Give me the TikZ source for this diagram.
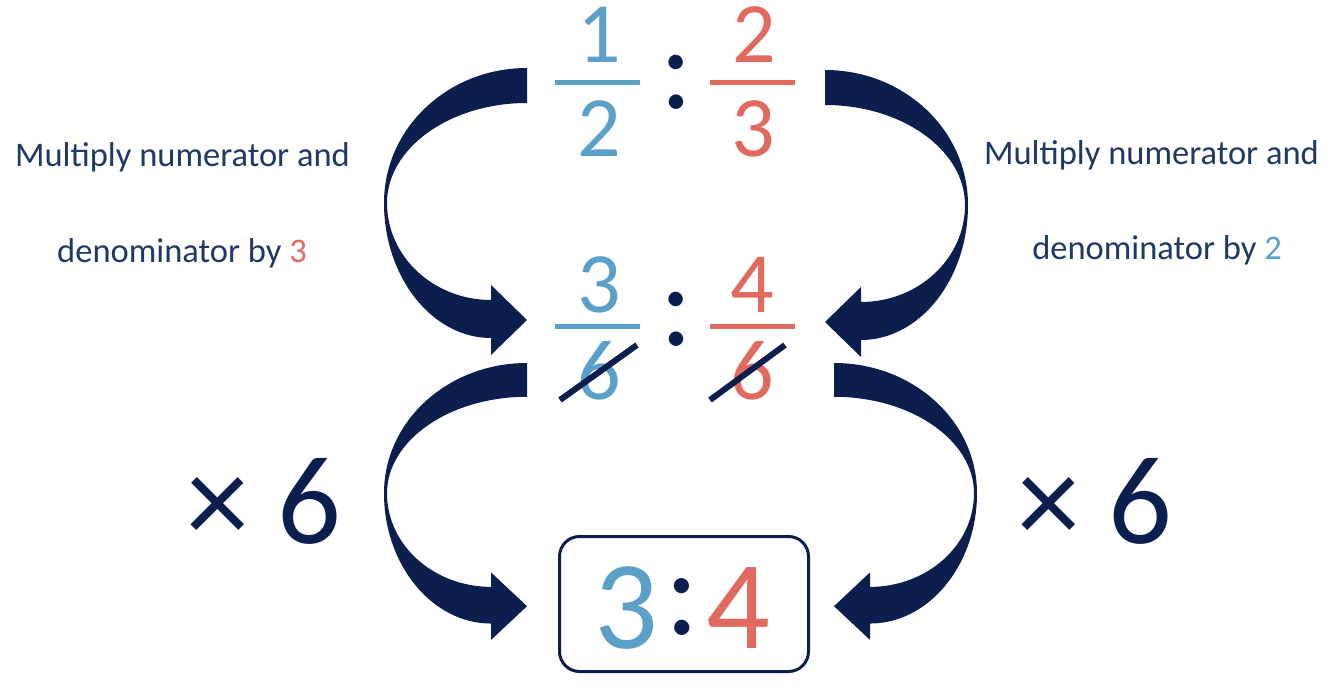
\documentclass[tikz,border=0pt]{standalone}
\usepackage{fontspec}
\setmainfont{Carlito}
\definecolor{navy}{RGB}{12,30,78}
\definecolor{txt}{RGB}{32,56,100}
\definecolor{cblue}{RGB}{91,160,200}
\definecolor{cred}{RGB}{224,106,94}
\tikzset{
  carrow/.pic={\fill[navy] (0,0) .. controls (-79,0) and (-143,60) .. (-143,135)
      .. controls (-143,209) and (-95,270) .. (-36,270)
      -- (-36,287) -- (0,252) -- (-36,217) -- (-36,232)
      .. controls (-93,232) and (-140,189) .. (-140,135)
      .. controls (-140,80) and (-77,35) .. (0,35) -- cycle;},
  lbl/.style={inner sep=0, anchor=base, text=txt, font=\fontsize{34.5}{40}\selectfont},
  frac/.style={inner sep=0, anchor=base, font=\fontsize{86}{90}\selectfont},
  colon/.style={inner sep=0, anchor=base, text=navy, font=\fontsize{120}{124}\selectfont},
  big/.style={inner sep=0, anchor=base, font=\fontsize{126}{130}\selectfont},
  bar/.style={line width=5pt},
  strike/.style={draw=navy, line width=6pt},
  box/.style={draw=navy, line width=3pt, rounded corners=20pt, minimum width=249pt, minimum height=135pt, inner sep=0},
}
\begin{document}
\begin{tikzpicture}[x=1pt,y=-1pt]
\useasboundingbox (0,0) rectangle (1334,692);
% curved arrows
\pic (tl) at (527,68) {carrow};
\pic[xscale=-1] (tr) at (825,70) {carrow};
\pic[yscale=0.965] (bl) at (527,363) {carrow};
\pic[xscale=-1,yscale=0.965] (br) at (834,363) {carrow};
% side labels
\node[lbl] (l1) at (182.5,167) {Multiply numerator and};
\node[lbl] (l2) at (182,263) {denominator by \textcolor{cred}{3}};
\node[lbl] (r1) at (1151.5,165) {Multiply numerator and};
\node[lbl] (r2) at (1157,260) {denominator by \textcolor{cblue}{2}};
% row 1
\node[frac, text=cblue] (n1) at (599,63) {1};
\node[frac, text=cblue] (d1) at (599,157) {2};
\node[frac, text=cred] (n2) at (754,63) {2};
\node[frac, text=cred] (d2) at (753,157) {3};
\draw[cblue, bar] (555,83) -- (640,83);
\draw[cred, bar] (710,83) -- (795,83);
\node[colon] (c1) at (677,109) {:};
% row 2
\node[frac, text=cblue] (n3) at (599,313) {3};
\node[frac, text=cblue] (d3) at (599,400) {6};
\node[frac, text=cred] (n4) at (752,313) {4};
\node[frac, text=cred] (d4) at (752,400) {6};
\draw[cblue, bar] (555,327) -- (640,327);
\draw[cred, bar] (710,327) -- (795,327);
\node[colon] (c2) at (677,346) {:};
\draw[strike] (560,400) -- (637,345);
\draw[strike] (710,400) -- (785,345);
% multipliers
\node[big, text=navy] (xl) at (264,543) {× 6};
\node[big, text=navy] (xr) at (1095,543) {× 6};
% answer box
\node[box] (ans) at (684,604) {};
\node[big, text=cblue] (a3) at (626,648) {3};
\node[big, text=navy] (ac) at (682,634) {:};
\node[big, text=cred] (a4) at (738,648) {4};
\end{tikzpicture}
\end{document}
